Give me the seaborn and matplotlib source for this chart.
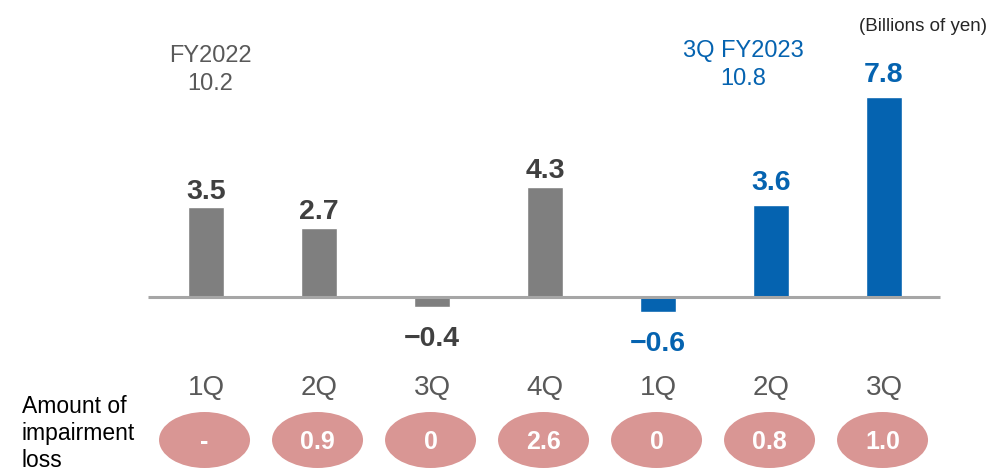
import matplotlib
matplotlib.use("Agg")
import matplotlib.pyplot as plt
from matplotlib.patches import Ellipse
import seaborn as sns
import pandas as pd

# Quarterly values (billions of yen)
periods = ["FY22 1Q", "FY22 2Q", "FY22 3Q", "FY22 4Q", "FY23 1Q", "FY23 2Q", "FY23 3Q"]
quarter_labels = ["1Q", "2Q", "3Q", "4Q", "1Q", "2Q", "3Q"]
fiscal_year = ["FY2022", "FY2022", "FY2022", "FY2022", "FY2023", "FY2023", "FY2023"]
values = [3.5, 2.7, -0.4, 4.3, -0.6, 3.6, 7.8]
impairment = ["-", "0.9", "0", "2.6", "0", "0.8", "1.0"]
total_fy2022 = "10.2"
total_fy2023 = "10.8"

GRAY = "#7f7f7f"
BLUE = "#0563b0"
palette = {"FY2022": GRAY, "FY2023": BLUE}
label_color = {"FY2022": "#404040", "FY2023": BLUE}

sns.set_theme(style="white")
plt.rcParams["font.family"] = ["Liberation Sans", "DejaVu Sans"]

W, H = 989, 473
fig = plt.figure(figsize=(W / 100, H / 100), dpi=100)
ax = fig.add_axes([0, 0, 1, 1])

# pixel layout helpers: bar centres every 113 px starting at 206, zero line at 297
X0, DX, Y0, DY = 206, 113, 297, 25.6
def px(x):
    return (x - X0) / DX
def py(y):
    return (Y0 - y) / DY

df = pd.DataFrame({"period": periods, "value": values, "fy": fiscal_year})
sns.barplot(data=df, x="period", y="value", hue="fy", palette=palette,
            dodge=False, width=0.32, legend=False, ax=ax, saturation=1,
            order=periods, zorder=2)

ax.set_xlim(px(0), px(W))
ax.set_ylim(py(H), py(0))
ax.axis("off")

# zero line
ax.plot([px(148), px(940)], [0, 0], color="#a6a6a6", lw=2.2, zorder=3,
        solid_capstyle="butt")

for i, (v, fy, q, imp) in enumerate(zip(values, fiscal_year, quarter_labels, impairment)):
    txt = f"{v:.1f}".replace("-", "\u2212")
    if v >= 0:
        gap = 8.5 if fy == "FY2022" else 15
        ax.annotate(txt, (i, v), xytext=(0, gap * 0.72), textcoords="offset points",
                    ha="center", va="baseline", fontsize=20.5, fontweight="bold",
                    color=label_color[fy])
    else:
        ax.annotate(txt, (i, v), xytext=(0, -39 * 0.72), textcoords="offset points",
                    ha="center", va="baseline", fontsize=20.5, fontweight="bold",
                    color=label_color[fy])
    # quarter label
    ax.text(i, py(395), q, ha="center", va="baseline", fontsize=20, color="#595959")
    # impairment loss bubble
    ax.add_patch(Ellipse((i - 0.013, py(440)), 91 / DX, 56 / DY,
                         facecolor="#d99694", edgecolor="none", zorder=2))
    ax.text(i - 0.013, py(449), imp, ha="center", va="baseline", fontsize=18,
            fontweight="bold", color="white", zorder=3)

# fiscal year totals
ax.text(px(210), py(62), "FY2022", ha="center", va="baseline", fontsize=17, color="#595959")
ax.text(px(210), py(90), total_fy2022, ha="center", va="baseline", fontsize=17, color="#595959")
ax.text(px(743), py(57), "3Q FY2023", ha="center", va="baseline", fontsize=17, color=BLUE)
ax.text(px(743), py(85), total_fy2023, ha="center", va="baseline", fontsize=17, color=BLUE)

ax.text(px(987), py(31), "(Billions of yen)", ha="right", va="baseline", fontsize=13.5,
        color="#262626")

for k, line in enumerate(["Amount of", "impairment", "loss"]):
    ax.text(px(22), py(413 + 27 * k), line, ha="left", va="baseline", fontsize=16.5,
            color="black")

fig.savefig("out.png", dpi=100)
